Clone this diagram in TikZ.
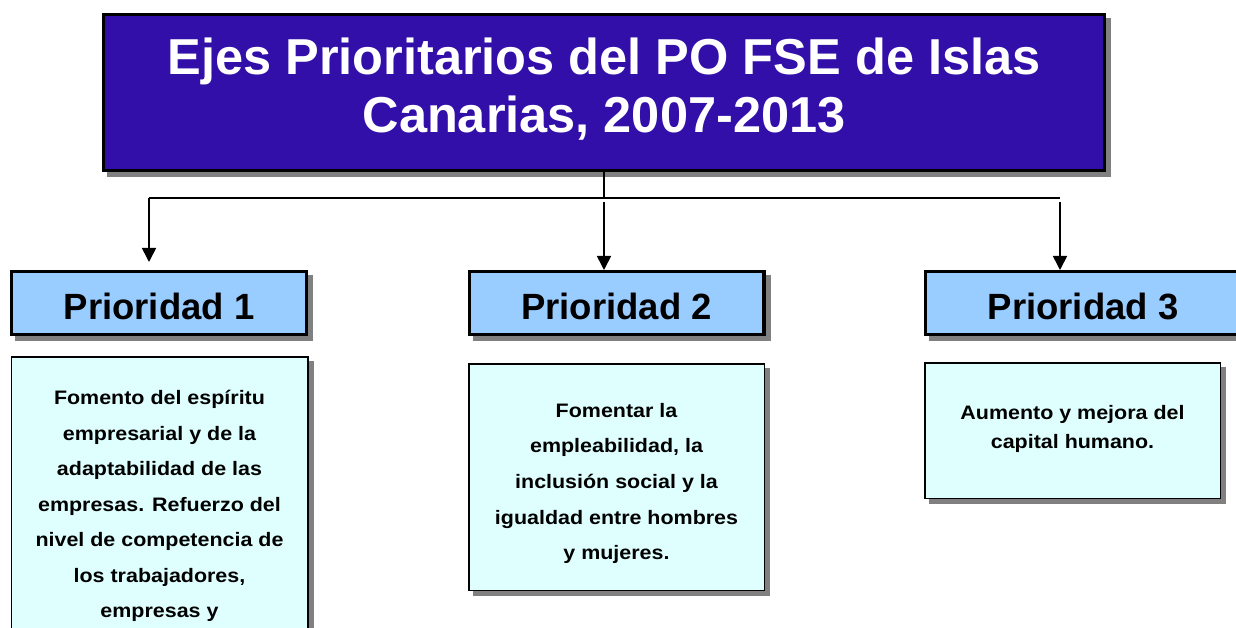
\documentclass[tikz,border=0pt]{standalone}
\usepackage{fontspec}
\setmainfont{Liberation Sans}
\newfontfamily\bodyfont[FakeStretch=1.1]{Liberation Sans}
\usetikzlibrary{arrows.meta,shadows}
\definecolor{titleblue}{RGB}{51,15,170}
\definecolor{prioblue}{RGB}{153,204,255}
\definecolor{boxcyan}{RGB}{223,255,255}
\definecolor{shadowgray}{RGB}{128,128,128}
\begin{document}
\begin{tikzpicture}[x=1pt,y=-1pt,
  myshadow/.style={copy shadow={shadow xshift=5pt,shadow yshift=-5pt,fill=shadowgray,draw=shadowgray}},
  titlebox/.style={draw=black,line width=3.3pt,fill=titleblue,minimum width=1000.7pt,minimum height=155.7pt,inner sep=0pt,myshadow},
  titletext/.style={text=white,align=center,inner sep=0pt,font=\fontsize{50.5}{58}\selectfont\bfseries},
  priobox/.style={draw=black,line width=3.3pt,fill=prioblue,minimum height=62.7pt,inner sep=0pt,text height=32pt,text depth=0pt,font=\fontsize{36.5}{40}\selectfont\bfseries,myshadow},
  infobox/.style={draw=black,line width=1.5pt,fill=boxcyan,inner sep=0pt,myshadow},
  infotext/.style={align=center,inner sep=0pt,anchor=north},
  conn/.style={draw=black,line width=1.6pt},
  arr/.style={conn,-{Triangle[length=14pt,width=14pt]}}
]
\useasboundingbox (0,0) rectangle (1236,628);
\clip (0,0) rectangle (1236,628);

% title
\node[titlebox] (title) at (604,92.5) {};
\node[titletext,anchor=north] (titletxt) at (604,37.8) {Ejes Prioritarios del PO FSE de Islas\\Canarias, 2007-2013};

% priority headers
\node[priobox,minimum width=294.7pt] (p1) at (159,303) {Prioridad 1};
\node[priobox,minimum width=294.7pt] (p2) at (616.5,303) {Prioridad 2};
\node[priobox,minimum width=314.7pt] (p3) at (1083,303) {Prioridad 3};

% description boxes
\node[infobox,minimum width=296.5pt,minimum height=330pt] (t1) at (159.5,522) {};
\node[infobox,minimum width=295.5pt,minimum height=226.5pt] (t2) at (616.5,477) {};
\node[infobox,minimum width=295.5pt,minimum height=135.5pt] (t3) at (1072.5,430.5) {};

\node[infotext,font=\bodyfont\fontsize{19.5}{35.5}\selectfont\bfseries] (t1txt) at (159.5,390)
  {Fomento del espíritu\\empresarial y de la\\adaptabilidad de las\\empresas. Refuerzo del\\nivel de competencia de\\los trabajadores,\\empresas y};
\node[infotext,font=\bodyfont\fontsize{19.5}{35.7}\selectfont\bfseries] (t2txt) at (616.5,402.8)
  {Fomentar la\\empleabilidad, la\\inclusión social y la\\igualdad entre hombres\\y mujeres.};
\node[infotext,font=\bodyfont\fontsize{19.5}{29}\selectfont\bfseries] (t3txt) at (1072.5,405)
  {Aumento y mejora del\\capital humano.};

% connectors
\coordinate (jl) at (149,198);
\coordinate (jr) at (1060,198);
\draw[conn] (title.south) -- (title.south |- jl);
\draw[conn] (jl) -- (jr);
\draw[arr,shorten >=8pt] (jl) -- (jl |- p1.north);
\draw[arr] ([yshift=-4pt]title.south |- jl) -- (title.south |- p2.north);
\draw[arr] ([yshift=-4pt]jr) -- (jr |- p3.north);
\end{tikzpicture}
\end{document}
